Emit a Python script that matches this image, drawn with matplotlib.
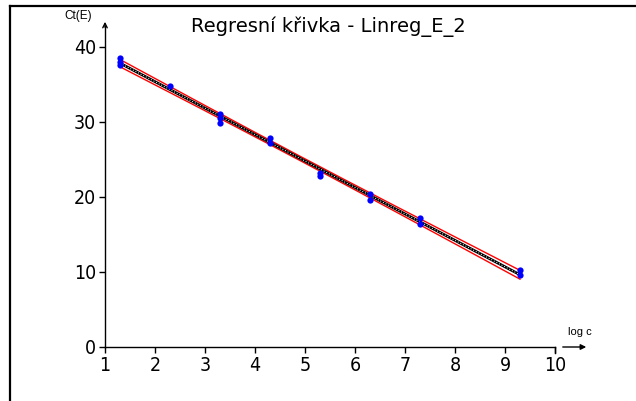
import numpy as np
import matplotlib
matplotlib.use("Agg")
import matplotlib.pyplot as plt
from matplotlib import font_manager
from matplotlib.lines import Line2D

# ---- data ----
log_c = [1.3, 1.3, 1.3, 2.3, 3.3, 3.3, 3.3, 4.3, 4.3, 5.3, 5.3, 6.3, 6.3, 7.3, 7.3, 9.3, 9.3]
ct_e = [38.5, 38.0, 37.5, 34.8, 31.0, 30.5, 29.8, 27.8, 27.2, 23.2, 22.8, 20.4, 19.6, 17.2, 16.4, 10.3, 9.6]
x_ticks = [1, 2, 3, 4, 5, 6, 7, 8, 9, 10]
y_ticks = [0, 10, 20, 30, 40]
title = "Regresní křivka - Linreg_E_2"
x_label = "log c"
y_label = "Ct(E)"

condensed = [f for f in font_manager.fontManager.ttflist
             if f.name == "DejaVu Sans" and f.stretch == "condensed"
             and f.style == "normal" and f.weight in (400, "normal")]
if condensed:
    tick_font = font_manager.FontProperties(fname=condensed[0].fname, size=14)
else:
    tick_font = font_manager.FontProperties(family="Liberation Sans", size=14)
title_font = font_manager.FontProperties(family="DejaVu Sans", size=14)
plt.rcParams["font.family"] = ["Liberation Sans", "DejaVu Sans"]

W, H = 636, 401
fig = plt.figure(figsize=(W / 100, H / 100), dpi=100)
fig.patch.set_facecolor("white")

def fx(px):
    return px / W

def fy(py):
    return 1 - py / H

x0, x1 = 105, 555
y0, y1 = 347, 46.5
ax = fig.add_axes([fx(x0), fy(y0), (x1 - x0) / W, (y0 - y1) / H])
ax.set_xlim(1, 10)
ax.set_ylim(0, 40)
for s in ax.spines.values():
    s.set_visible(False)
ax.patch.set_alpha(0)

# frame lines (left and top)
fig.add_artist(Line2D([fx(10), fx(10)], [fy(6), 0], color="black", lw=1.6))
fig.add_artist(Line2D([fx(10), 1], [fy(6), fy(6)], color="black", lw=1.6))

# axes lines
fig.add_artist(Line2D([fx(x0), fx(x1)], [fy(y0), fy(y0)], color="black", lw=1))
fig.add_artist(Line2D([fx(x0), fx(x0)], [fy(y0), fy(26)], color="black", lw=1))
fig.add_artist(Line2D([fx(x1), fx(x1)], [fy(y0), fy(y0 + 6)], color="black", lw=1))
ax.annotate("", xy=(fx(x0), fy(19)), xytext=(fx(x0), fy(30)), xycoords="figure fraction",
            arrowprops=dict(arrowstyle="->", lw=1, color="black", mutation_scale=8))
ax.annotate("", xy=(fx(589), fy(y0)), xytext=(fx(560), fy(y0)), xycoords="figure fraction",
            arrowprops=dict(arrowstyle="-|>", lw=1, color="black", mutation_scale=8))

ax.set_xticks(x_ticks)
ax.set_yticks(y_ticks)
ax.set_xticklabels([str(t) for t in x_ticks], fontproperties=tick_font)
ax.set_yticklabels([str(t) for t in y_ticks], fontproperties=tick_font)
ax.tick_params(axis="both", direction="out", length=4.5, width=1, pad=2)

fig.text(fx(328), fy(27), title, ha="center", va="center", fontproperties=title_font)
fig.text(fx(78), fy(16), y_label, ha="center", va="center", fontsize=8.5)
fig.text(fx(580), fy(332), x_label, ha="center", va="center", fontsize=8)

# regression and confidence band
x = np.array(log_c)
y = np.array(ct_e)
b, a = np.polyfit(x, y, 1)
n = len(x)
res = y - (a + b * x)
s = np.sqrt(np.sum(res ** 2) / (n - 2))
xx = np.linspace(min(x), max(x), 200)
se = s * np.sqrt(1 / n + (xx - x.mean()) ** 2 / np.sum((x - x.mean()) ** 2))
tval = 2.13
yy = a + b * xx
ax.plot(xx, yy + tval * se, color="red", lw=1)
ax.plot(xx, yy - tval * se, color="red", lw=1)
ax.plot(xx, yy, color="black", lw=2)
ax.plot(xx, yy, color="white", lw=0.7, ls=(0, (1, 2)))

ax.plot(x, y, "o", color="#0000ff", markersize=4.5, markeredgewidth=0)

fig.savefig("out.png", dpi=100)
